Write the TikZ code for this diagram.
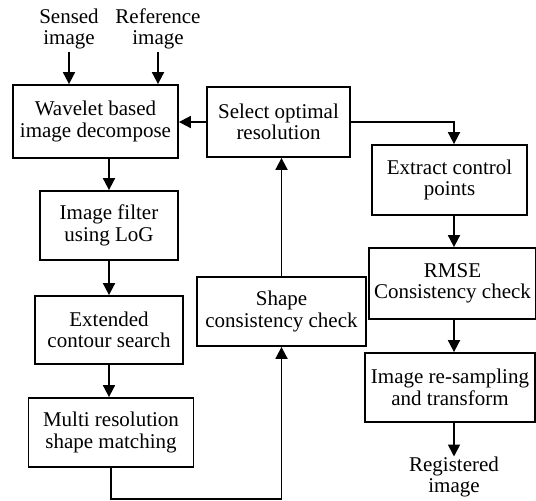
\documentclass[tikz,border=0pt]{standalone}
\usepackage{fontspec}
\setmainfont{Liberation Serif}
\usetikzlibrary{arrows.meta}
\begin{document}
\begin{tikzpicture}[x=1pt,y=-1pt,
  box/.style={draw,line width=1.8pt,align=center,inner sep=0pt,font=\fontsize{21}{21.5}\selectfont},
  lbl/.style={align=center,inner sep=0pt,font=\fontsize{21}{21.5}\selectfont},
  arr/.style={line width=1.8pt,-{Triangle[length=12pt,width=12pt]}},
  ln/.style={line width=1.8pt}]
\useasboundingbox (0,0) rectangle (536,501);
\node[lbl] (sensed) at (69,29) {Sensed\\image};
\node[lbl] (ref) at (158,29) {Reference\\image};
\node[box,minimum width=165pt,minimum height=73pt] (wave) at (95.5,121.5) {Wavelet based\\image decompose};
\node[box,minimum width=143pt,minimum height=70pt] (sel) at (278.5,122) {Select optimal\\resolution};
\node[box,minimum width=138pt,minimum height=69pt] (filt) at (109,225.5) {Image filter\\using LoG};
\node[box,minimum width=148pt,minimum height=68pt] (ext) at (109,330) {Extended\\contour search};
\node[box,minimum width=165pt,minimum height=69pt] (multi) at (111,432.5) {Multi resolution\\shape matching};
\node[box,minimum width=169pt,minimum height=69pt] (shape) at (281.5,311.5) {Shape\\consistency check};
\node[box,minimum width=155pt,minimum height=70pt] (extr) at (449.5,180) {Extract control\\points};
\node[box,minimum width=167pt,minimum height=71pt] (rmse) at (452.5,283.5) {RMSE\\Consistency check};
\node[box,minimum width=170pt,minimum height=69pt] (resam) at (450,387.5) {Image re-sampling\\and transform};
\node[lbl] (reg) at (454,477) {Registered\\image};
\coordinate (c1) at (111,499);
\coordinate (c2) at (281.5,499);
\draw[arr] (sensed.south) ++(0,2) -- (sensed.south |- wave.north);
\draw[arr] (ref.south) ++(0,2) -- (ref.south |- wave.north);
\draw[arr] (sel.west) -- (wave.east |- sel.west);
\draw[arr] (wave.south -| filt.north) -- (filt.north);
\draw[arr] (filt.south) -- (ext.north);
\draw[arr] (ext.south) -- (ext.south |- multi.north);
\draw[ln] (multi.south -| c1) -- (c1) -- (c2);
\draw[arr] (c2) -- (shape.south);
\draw[arr] (shape.north) -- (shape.north |- sel.south);
\draw[arr] (sel.east) -| (454,0 |- extr.north);
\draw[arr] (extr.south -| 454,0) -- (454,0 |- rmse.north);
\draw[arr] (rmse.south -| 454,0) -- (454,0 |- resam.north);
\draw[arr] (resam.south -| 454,0) -- (454,0 |- reg.north);
\end{tikzpicture}
\end{document}
